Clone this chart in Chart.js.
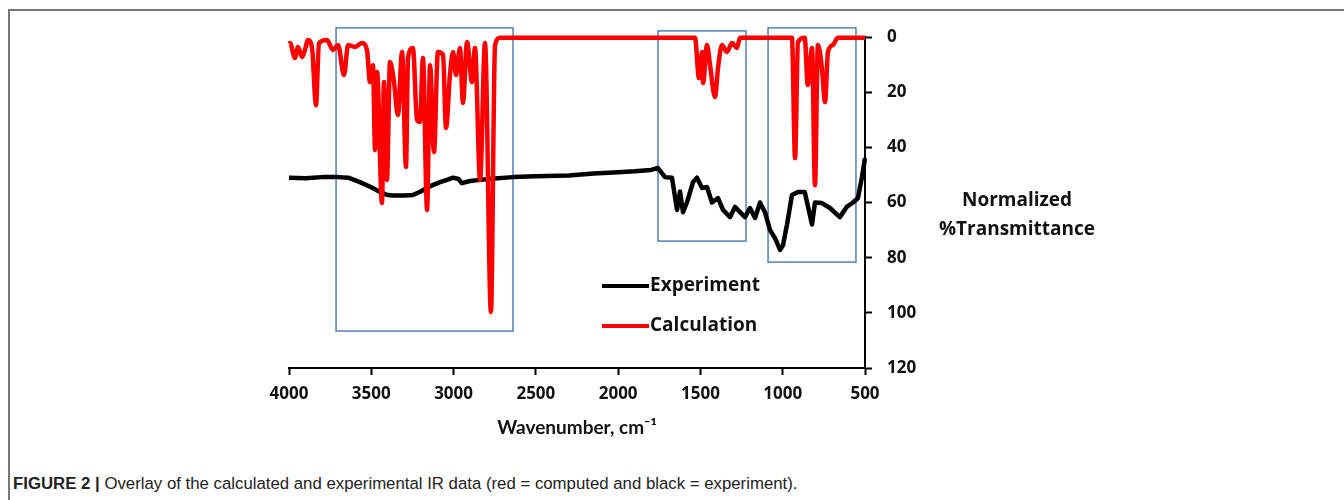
<!DOCTYPE html>
<html lang="en">
<head>
    <meta charset="UTF-8">
    <title>IR overlay</title>
    <script src="https://cdn.jsdelivr.net/npm/chart.js"></script>
    <style>
        body { margin: 0; background: #fff; }
        .frame {
            position: absolute; left: 8px; top: 9px; right: 0; bottom: 0;
            border-top: 2px solid #777; border-left: 2px solid #777;
        }
        .chartBox { position: absolute; left: 0; top: 0; width: 1344px; height: 445px; }
        .caption {
            position: absolute; left: 13px; top: 474px;
            font-family: "Liberation Sans", Arial, sans-serif; font-size: 16.8px; color: #222;
        }
    </style>
</head>
<body>
<div class="frame"></div>
<div class="chartBox"><canvas id="irChart"></canvas></div>
<div class="caption"><b>FIGURE 2 |</b> Overlay of the calculated and experimental IR data (red = computed and black = experiment).</div>
<script>
    // experimental spectrum (wavenumber, normalized %T)
    var expWavenumbers = [4000, 3900, 3800, 3700, 3640, 3569, 3500, 3447, 3400, 3368, 3300, 3247, 3200, 3161, 3120, 3082, 3040, 3003, 2970, 2949, 2900, 2839, 2750, 2639, 2500, 2300, 2150, 2000, 1900, 1800, 1758,
        1715, 1673, 1642, 1624, 1606, 1582, 1545, 1521, 1490, 1460, 1430, 1393, 1363, 1320, 1290, 1260, 1229, 1199, 1168, 1138, 1108, 1077, 1047, 1016, 998, 974, 944, 907, 866, 848, 822, 804, 762, 713, 653, 611, 573, 543, 519, 500];
    var expValues = [51, 51.2, 50.8, 50.8, 51, 52.6, 54.5, 56.2, 57.3, 57.5, 57.5, 57.3, 56, 54.7, 53.5, 52.6, 51.8, 51, 51.5, 53, 52.2, 51.8, 51.3, 50.8, 50.5, 50.2, 49.5, 49, 48.7, 48.2, 47.5,
        50.8, 51, 62.7, 56, 63.5, 60, 52.6, 51, 54.7, 54.4, 60, 58.4, 62.7, 65.3, 61.6, 63.5, 65.3, 62, 65.6, 60, 63.5, 70, 72.9, 77.2, 75.4, 68, 57.3, 56.2, 56.2, 61, 68, 60, 60.2, 62, 65.3, 61.6, 60, 58.4, 51, 43.9];

    // calculated spectrum
    var calcWavenumbers = [4000, 3994, 3964, 3945, 3921, 3903, 3885, 3860, 3836, 3818, 3769, 3733, 3702, 3666, 3641, 3599, 3556, 3526, 3508, 3490, 3477, 3465, 3435, 3423, 3405, 3386, 3362, 3338, 3313, 3289, 3277, 3247, 3222, 3204, 3186, 3161, 3143, 3119, 3095, 3064, 3046, 3022, 3003, 2985, 2961, 2943, 2918, 2888, 2870, 2839, 2809, 2773, 2748, 2718,
        1533, 1509, 1490, 1484, 1460, 1442, 1411, 1393, 1369, 1339, 1308, 1278, 1260,
        944, 925, 907, 866, 848, 822, 804, 786, 762, 743, 725, 695, 665, 500];
    var calcValues = [2.5, 2.2, 7.6, 3.6, 7.3, 4.7, 1.1, 4, 24.7, 2.2, 1.1, 4.7, 2.9, 13.8, 2.9, 3.6, 2.2, 4.7, 16.3, 10.2, 41, 12.7, 60.2, 16.3, 51.8, 9.1, 16.3, 28.3, 5.4, 47.1, 7.6, 4, 30.1, 30.8, 7.6, 62.7, 10.2, 41.7, 5.4, 6.5, 33, 13.8, 5.4, 13.8, 4, 23.9, 1.8, 16.3, 4, 51.8, 2.2, 99.7, 2.9, 0.3,
        0.3, 14.9, 5.4, 16.7, 2.9, 10, 21.8, 11.2, 2.9, 5.4, 2.2, 4, 0.3,
        0.3, 43.9, 1.8, 0.3, 17.4, 4, 53.7, 2.9, 11.2, 23.6, 5.4, 2.9, 0.3, 0.3];

    // highlighted regions: [wavenumber from, wavenumber to, %T top, %T bottom]
    var regionBoxes = [
        [3714, 2639, -3.3, 106.6],
        [1758, 1223, -2.2, 74],
        [1089, 555, -3.3, 81.6]
    ];

    var xTickValues = [4000, 3500, 3000, 2500, 2000, 1500, 1000, 500];
    var yTickValues = [0, 20, 40, 60, 80, 100, 120];

    function toPoints(xs, ys) {
        var pts = [];
        for (var i = 0; i < xs.length; i++) {
            pts.push({ x: xs[i], y: ys[i] });
        }
        return pts;
    }

    var labelFont = '"Open Sans", "DejaVu Sans", sans-serif';
    var titleFont = '"Lato", "DejaVu Sans", sans-serif';

    var boxesPlugin = {
        id: "regionBoxes",
        beforeDatasetsDraw: function(chart) {
            var ctx = chart.ctx, xs = chart.scales.x, ys = chart.scales.y;
            ctx.save();
            ctx.strokeStyle = "#4f81bd";
            ctx.lineWidth = 1.5;
            regionBoxes.forEach(function(b) {
                var x1 = xs.getPixelForValue(b[0]), x2 = xs.getPixelForValue(b[1]);
                var y1 = ys.getPixelForValue(b[2]), y2 = ys.getPixelForValue(b[3]);
                ctx.strokeRect(x1, y1, x2 - x1, y2 - y1);
            });
            ctx.restore();
        },
        afterDraw: function(chart) {
            var ctx = chart.ctx;
            ctx.save();
            // legend
            var items = [["Experiment", "#000000", 286], ["Calculation", "#ff0000", 326]];
            ctx.font = "bold 19px " + labelFont;
            ctx.textBaseline = "middle";
            ctx.textAlign = "left";
            items.forEach(function(it) {
                ctx.strokeStyle = it[1];
                ctx.lineWidth = 4;
                ctx.beginPath();
                ctx.moveTo(602, it[2]);
                ctx.lineTo(649, it[2]);
                ctx.stroke();
                ctx.fillStyle = "#111";
                ctx.fillText(it[0], 650, it[2]);
            });
            // y axis title
            ctx.textAlign = "center";
            ctx.fillText("Normalized", 1017, 201);
            ctx.fillText("%Transmittance", 1017, 230);
            ctx.restore();
        }
    };

    new Chart(document.getElementById("irChart"), {
        type: "line",
        data: {
            datasets: [{
                label: "Experiment",
                data: toPoints(expWavenumbers, expValues),
                borderColor: "#000000",
                borderWidth: 4.5,
                borderJoinStyle: "round",
                pointRadius: 0,
                order: 1,
                clip: false
            }, {
                label: "Calculation",
                data: toPoints(calcWavenumbers, calcValues),
                borderColor: "#ff0000",
                borderWidth: 4.5,
                borderJoinStyle: "round",
                cubicInterpolationMode: "monotone",
                pointRadius: 0,
                order: 0,
                clip: false
            }]
        },
        options: {
            responsive: true,
            maintainAspectRatio: false,
            animation: false,
            layout: { padding: { left: 289, top: 37, right: 0, bottom: 0 } },
            plugins: { legend: { display: false }, tooltip: { enabled: false } },
            scales: {
                x: {
                    type: "linear",
                    reverse: true,
                    min: 500,
                    max: 4000,
                    afterBuildTicks: function(s) { s.ticks = xTickValues.map(function(v) { return { value: v }; }); },
                    afterFit: function(s) { s.height = 77; },
                    border: { color: "#000", width: 2 },
                    grid: { drawOnChartArea: false, color: "#000", tickLength: 7, tickWidth: 2 },
                    ticks: { color: "#111", font: { family: labelFont, size: 17, weight: "bold" }, padding: 9, maxRotation: 0,
                        callback: function(v) { return String(v); } },
                    title: { display: true, text: "Wavenumber, cm\u207B\u00B9", color: "#111",
                        font: { family: titleFont, size: 19, weight: "bold" }, padding: { top: 4, bottom: 6 } }
                },
                y: {
                    position: "right",
                    reverse: true,
                    min: 0,
                    max: 120,
                    afterBuildTicks: function(s) { s.ticks = yTickValues.map(function(v) { return { value: v }; }); },
                    afterFit: function(s) { s.width = 479; },
                    border: { color: "#000", width: 2 },
                    grid: { drawOnChartArea: false, color: "#000", tickLength: 7, tickWidth: 2 },
                    ticks: { color: "#111", font: { family: labelFont, size: 17, weight: "bold" }, padding: 15 }
                }
            }
        },
        plugins: [boxesPlugin]
    });
</script>
</body>
</html>
